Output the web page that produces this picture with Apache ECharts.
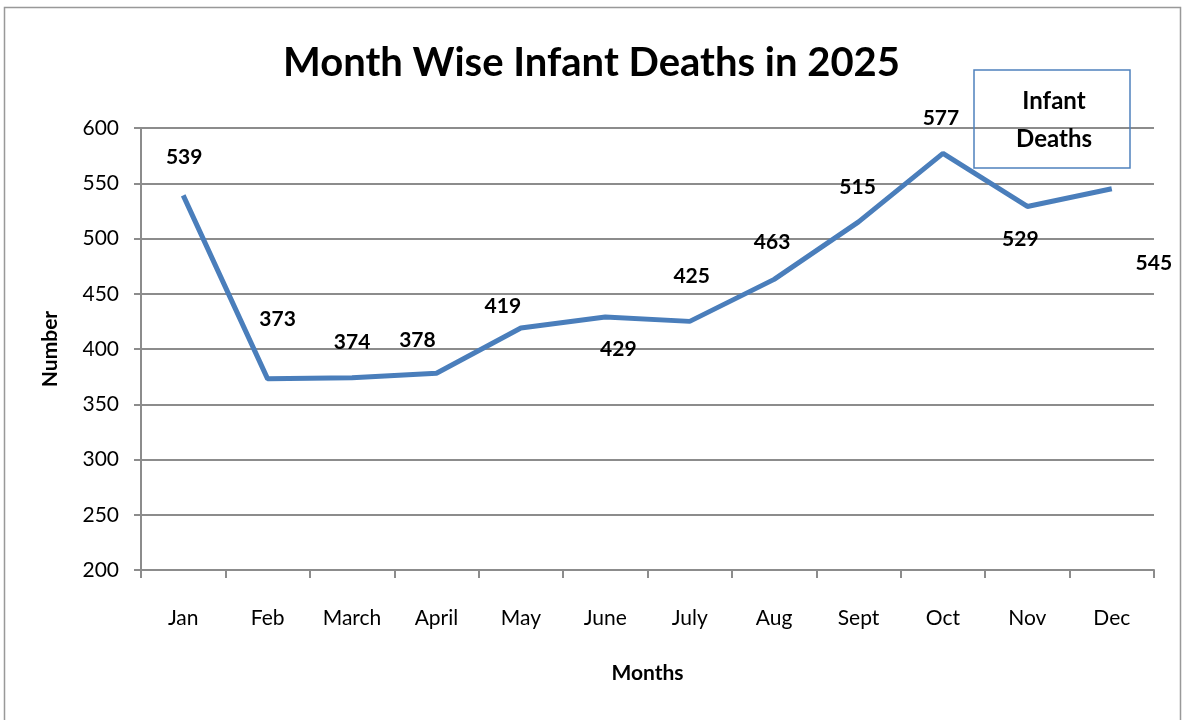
<!DOCTYPE html>
<html>
<head>
<meta charset="utf-8">
<script src="https://cdn.jsdelivr.net/npm/echarts@6/dist/echarts.min.js"></script>
<style>
  html, body { margin: 0; padding: 0; background: #fff; }
  #chart { width: 1183px; height: 720px; }
</style>
</head>
<body>
<div id="chart"></div>
<script>
// months and counts
const months = ['Jan', 'Feb', 'March', 'April', 'May', 'June', 'July', 'Aug', 'Sept', 'Oct', 'Nov', 'Dec']
const deaths = [539, 373, 374, 378, 419, 429, 425, 463, 515, 577, 529, 545]
const yTicks = [200, 250, 300, 350, 400, 450, 500, 550, 600]

// where each value label sits relative to its point (px)
const labelOffsets = [
  [1, -38], [10, -60], [0, -35], [-19, -33], [-18, -22], [13, 32],
  [2, -45], [-2, -37], [-1, -35], [-2, -35], [-7, 33], [42, 74]
]

const font = 'Lato, "Open Sans", sans-serif'
const grey = '#8c8c8c'

var myChart = echarts.init(document.getElementById('chart'))

var option = {
  animation: false,
  title: {
    text: 'Month Wise Infant Deaths in 2025',
    left: 'center',
    top: 38,
    textStyle: { fontFamily: font, fontSize: 40, fontWeight: 'bold', color: '#000' }
  },
  graphic: [{
    type: 'rect',
    shape: { x: 4.5, y: 7.5, width: 1176, height: 730 },
    style: { fill: 'none', stroke: '#999', lineWidth: 1.5 },
    silent: true
  }],
  legend: {
    left: 974,
    top: 70,
    icon: 'none',
    itemWidth: 0,
    itemGap: 0,
    padding: [19, 33, 17, 32],
    borderColor: '#4f81bd',
    borderWidth: 1.5,
    formatter: () => '{a|Infant}\n{a|Deaths}',
    textStyle: {
      rich: {
        a: { width: 86, align: 'center', fontFamily: font, fontSize: 24, fontWeight: 'bold', color: '#000', lineHeight: 38 }
      }
    }
  },
  grid: { left: 141, right: 29, top: 128, bottom: 150 },
  xAxis: {
    type: 'category',
    data: months,
    name: 'Months',
    nameLocation: 'middle',
    nameGap: 93,
    nameTextStyle: { fontFamily: font, fontSize: 21, fontWeight: 'bold', color: '#000' },
    axisLine: { lineStyle: { color: grey, width: 2 } },
    axisTick: { show: true, length: 8, lineStyle: { color: grey, width: 2 } },
    axisLabel: { margin: 38, fontFamily: font, fontSize: 21, color: '#000' }
  },
  yAxis: {
    type: 'value',
    min: yTicks[0],
    max: yTicks[yTicks.length - 1],
    interval: yTicks[1] - yTicks[0],
    name: 'Number',
    nameLocation: 'middle',
    nameGap: 80,
    nameRotate: 90,
    nameTextStyle: { fontFamily: font, fontSize: 21, fontWeight: 'bold', color: '#000' },
    axisLine: { show: true, lineStyle: { color: grey, width: 2 } },
    axisTick: { show: true, length: 7, lineStyle: { color: grey, width: 2 } },
    axisLabel: { margin: 22, fontFamily: font, fontSize: 21, color: '#000' },
    splitLine: { lineStyle: { color: grey, width: 2 } }
  },
  series: [{
    name: 'Infant Deaths',
    type: 'line',
    symbol: 'circle',
    symbolSize: 0,
    showSymbol: true,
    lineStyle: { color: '#4a7ebb', width: 5 },
    itemStyle: { color: '#4a7ebb' },
    data: deaths.map((v, i) => ({
      value: v,
      label: { show: true, position: 'inside', offset: labelOffsets[i] }
    })),
    label: {
      show: true,
      fontFamily: font,
      fontSize: 21,
      fontWeight: 'bold',
      color: '#000'
    }
  }]
}

myChart.setOption(option)
</script>
</body>
</html>
